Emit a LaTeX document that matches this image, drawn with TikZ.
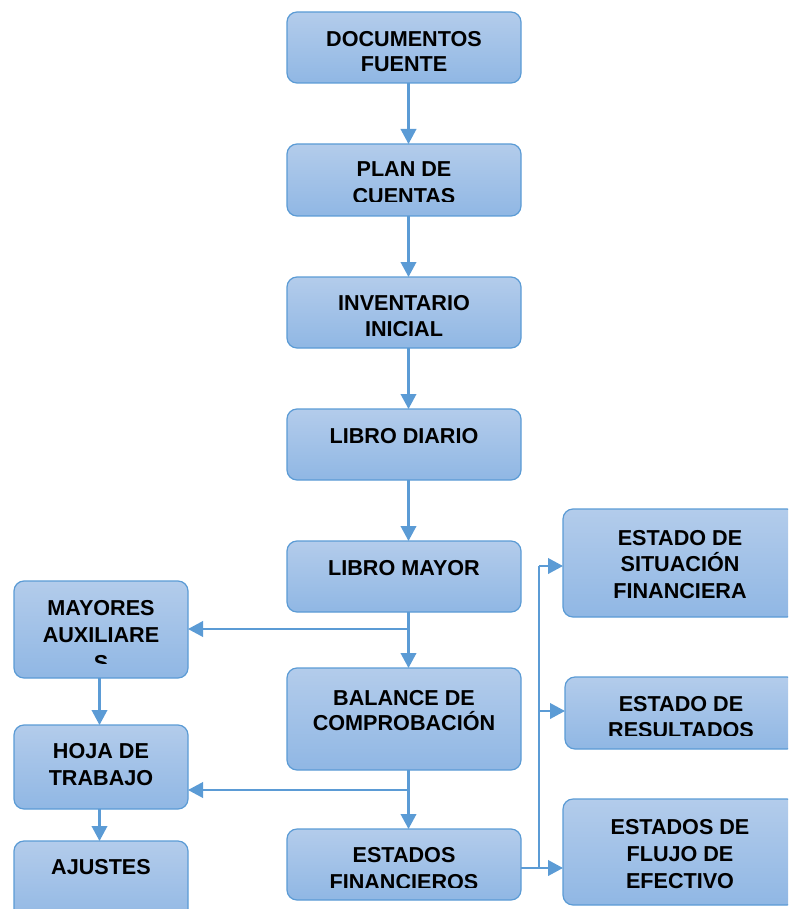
\documentclass[tikz,border=0pt]{standalone}
\usepackage{fontspec}
\setmainfont{Liberation Sans}
\usetikzlibrary{arrows.meta,calc}
\definecolor{edgec}{RGB}{91,155,213}
\definecolor{topc}{RGB}{179,204,235}
\definecolor{botc}{RGB}{144,183,228}
\tikzset{
  box/.style={draw=edgec, line width=1.2pt, rounded corners=10pt, top color=topc, bottom color=botc, inner sep=0pt, outer sep=0pt},
  lbl/.style={anchor=base, inner sep=0pt, font=\fontsize{21.6}{26}\selectfont\bfseries, text=black},
  conn/.style={draw=edgec, line width=2.2pt},
  arr/.style={conn, -{Triangle[length=15pt,width=15.5pt]}},
}
% name, x1, y1, x2, y2, first baseline offset, line spacing, bottom clip, lines
\newcommand\mkbox[9]{%
  \node[box, minimum width={(#4-#2)*1pt}, minimum height={(#5-#3)*1pt}] (#1) at ({(#2+#4)/2},{(#3+#5)/2}) {};
  \begin{scope}
    \clip ([yshift=#8pt]#1.south west) rectangle (#1.north east);
    \foreach \ln [count=\i from 0] in {#9}
      \node[lbl] (#1-t\i) at ($(#1.north)+(0,{#6+\i*#7})$) {\ln};
  \end{scope}}
\begin{document}
\begin{tikzpicture}[x=1pt,y=-1pt]
\useasboundingbox (0,0) rectangle (788,909);
\clip (0,0) rectangle (788,909);
% centre column
\mkbox{docs}{287}{12}{521}{83}{34.7}{24.5}{0}{DOCUMENTOS,FUENTE}
\mkbox{plan}{287}{144}{521}{216}{33}{27}{14.3}{PLAN DE,CUENTAS}
\mkbox{inv}{287}{277}{521}{348}{33}{26}{12.5}{INVENTARIO,INICIAL}
\mkbox{diario}{287}{409}{521}{480}{34.5}{26}{0}{LIBRO DIARIO}
\mkbox{mayor}{287}{541}{521}{612}{34}{26}{0}{LIBRO MAYOR}
\mkbox{bal}{287}{668}{521}{770}{37}{25}{0}{BALANCE DE,COMPROBACIÓN}
\mkbox{ef}{287}{829}{521}{900}{33}{27}{13}{ESTADOS,FINANCIEROS}
% left column
\mkbox{aux}{14}{581}{188}{678}{34}{27.5}{14.7}{MAYORES,AUXILIARE,S}
\mkbox{hoja}{14}{725}{188}{809}{33.3}{27.4}{0}{HOJA DE,TRABAJO}
\mkbox{aj}{14}{841}{188}{925}{33}{26}{0}{AJUSTES}
% right column
\mkbox{esf}{563}{509}{797}{617}{36}{26.5}{0}{ESTADO DE,SITUACIÓN,FINANCIERA}
\mkbox{er}{565}{677}{797}{749}{34.7}{25.5}{14}{ESTADO DE,RESULTADOS}
\mkbox{efe}{563}{799}{797}{905}{35}{27}{0}{ESTADOS DE,FLUJO DE,EFECTIVO}
% connectors, centre column
\draw[arr] ([xshift=4.5pt]docs.south) -- ([xshift=4.5pt]plan.north);
\draw[arr] ([xshift=4.5pt]plan.south) -- ([xshift=4.5pt]inv.north);
\draw[arr] ([xshift=4.5pt]inv.south) -- ([xshift=4.5pt]diario.north);
\draw[arr] ([xshift=4.5pt]diario.south) -- ([xshift=4.5pt]mayor.north);
\draw[arr] ([xshift=4.5pt]mayor.south) -- ([xshift=4.5pt]bal.north);
\draw[arr] ([xshift=4.5pt]bal.south) -- ([xshift=4.5pt]ef.north);
% branches to the left
\coordinate (j1) at (408,629);
\coordinate (j2) at (408,790);
\draw[arr] (j1) -- (j1 -| aux.east);
\draw[arr] (j2) -- (j2 -| hoja.east);
\draw[arr] ([xshift=-1.5pt]aux.south) -- ([xshift=-1.5pt]hoja.north);
\draw[arr] ([xshift=-1.5pt]hoja.south) -- ([xshift=-1.5pt]aj.north);
% bus to the right
\coordinate (b1) at (539,566);
\coordinate (b2) at (539,711);
\coordinate (b3) at (539,868);
\draw[conn, line width=1.8pt] (b1) -- (b3);
\draw[arr] (b3 -| ef.east) -- (b3 -| efe.west);
\draw[arr] (b1) -- (b1 -| esf.west);
\draw[arr] (b2) -- (b2 -| er.west);
\end{tikzpicture}
\end{document}
